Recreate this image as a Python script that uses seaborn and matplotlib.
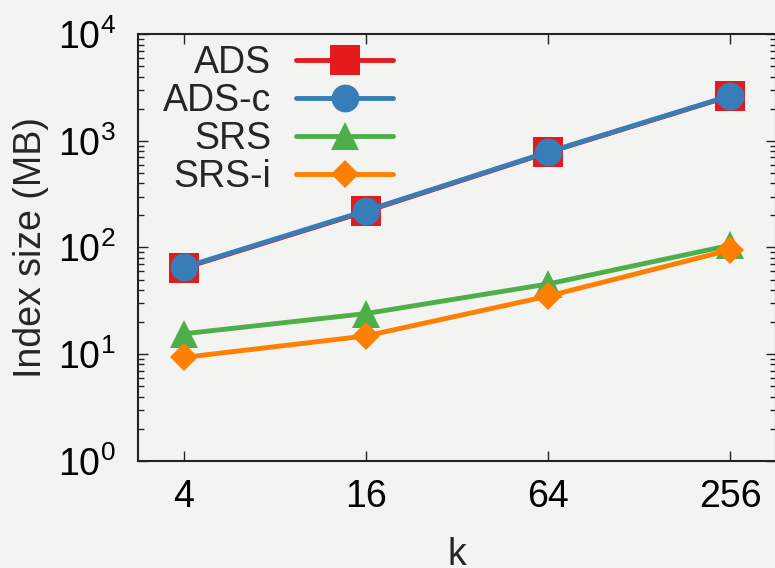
import numpy as np
import pandas as pd
import seaborn as sns
from matplotlib import pyplot as plt
from matplotlib import ticker

k = [4, 16, 64, 256]
ads = [64, 218, 780, 2640]
ads_c = [65, 221, 787, 2655]
srs = [15.5, 24, 45.5, 105]
srs_i = [9.3, 14.8, 35, 95]

names = ["ADS", "ADS-c", "SRS", "SRS-i"]
values = [ads, ads_c, srs, srs_i]
colors = ["#e41a1c", "#377eb8", "#4daf4a", "#ff7f00"]
markers = ["s", "o", "^", "D"]
msizes = [21.5, 20, 20, 14.5]

bg = "#f3f3f1"
sns.set_style("ticks")
plt.rcParams["font.family"] = ["Liberation Sans", "DejaVu Sans"]
plt.rcParams["mathtext.fontset"] = "custom"
plt.rcParams["mathtext.rm"] = "Liberation Sans"
plt.rcParams["font.size"] = 27

fig = plt.figure(figsize=(7.75, 5.68), dpi=100, facecolor=bg)
ax = fig.add_axes([138 / 775, 1 - 460.7 / 568, (776 - 138) / 775, (460.7 - 34.3) / 568])
ax.set_facecolor(bg)

for name, vals, c, m, ms in zip(names, values, colors, markers, msizes):
    df = pd.DataFrame({"k": k, "size": vals})
    sns.lineplot(ax=ax, data=df, x="k", y="size", color=c, marker=m,
                 markersize=ms, markeredgewidth=0, linewidth=3.5, label=name)

ax.set_xscale("log", base=2)
ax.set_yscale("log")
ax.set_xlim(2 ** 1.5, 2 ** 8.5)
ax.set_ylim(1, 1e4)
ax.xaxis.set_major_locator(ticker.FixedLocator(k))
ax.xaxis.set_major_formatter(ticker.FixedFormatter([str(v) for v in k]))
ax.xaxis.set_minor_locator(ticker.NullLocator())
ax.yaxis.set_major_locator(ticker.LogLocator(base=10, numticks=10))
ax.yaxis.set_minor_locator(ticker.LogLocator(base=10, subs=np.arange(2, 10), numticks=10))

for s in ax.spines.values():
    s.set_visible(True)
    s.set_linewidth(1.5)
    s.set_color("#222222")
ax.tick_params(which="both", direction="in", top=True, right=True, colors="#222222",
               labelcolor="black", width=1)
ax.tick_params(which="major", length=7, labelsize=27)
ax.tick_params(which="minor", length=4)
ax.tick_params(axis="x", which="major", pad=13)
ax.tick_params(axis="y", which="major", pad=16)

ax.set_xlabel("k", fontsize=27, labelpad=16)
ax.set_ylabel("Index size (MB)", fontsize=27, labelpad=6)

leg = ax.legend(loc="upper right", bbox_to_anchor=(393.3 / 775, 1 - 45 / 568),
                bbox_transform=fig.transFigure, frameon=False, markerfirst=False,
                borderpad=0, borderaxespad=0, handlelength=2.6, handletextpad=0.65,
                labelspacing=0.05, fontsize=27, numpoints=1)

fig.savefig("out.png", dpi=100, facecolor=bg)
